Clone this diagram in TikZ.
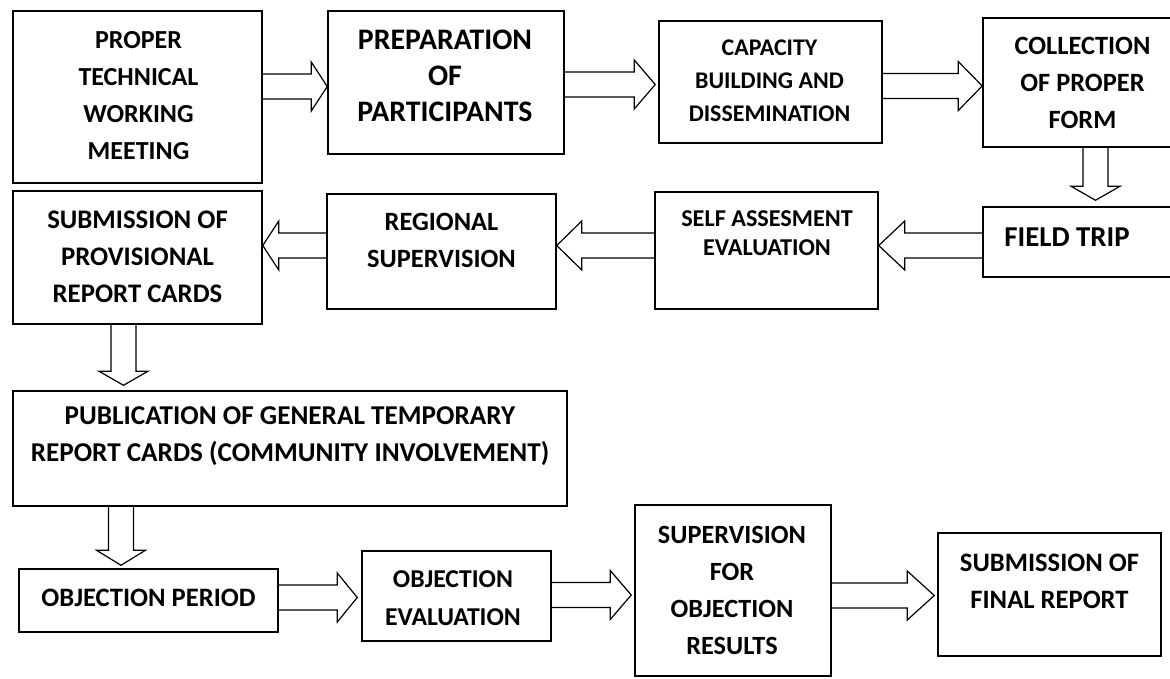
\documentclass[tikz,border=0pt]{standalone}
\usepackage{fontspec}
\setmainfont{Carlito}
\usetikzlibrary{calc}

\tikzset{
  box/.style={draw, line width=1.5pt, inner sep=0pt},
  txt/.style 2 args={align=center, inner sep=0pt, font=\fontsize{#1}{#2}\selectfont\bfseries},
  arrowline/.style={line width=1.2pt, line join=miter},
}

% block arrow from tail #1 to tip #2, head length #3
\newcommand{\blockarrow}[3]{%
  \coordinate (ba-h) at ($(#2)!#3!(#1)$);
  \draw[arrowline] ($(#1)!12.5pt!90:(#2)$) -- ($(ba-h)!12.5pt!-90:(#1)$)
    -- ($(ba-h)!24.5pt!-90:(#1)$) -- (#2) -- ($(ba-h)!24.5pt!90:(#1)$)
    -- ($(ba-h)!12.5pt!90:(#1)$) -- ($(#1)!12.5pt!-90:(#2)$);
}

\begin{document}
\begin{tikzpicture}[x=1pt, y=-1pt]
  \clip (0,0) rectangle (1170,678);
  % boxes
  \node[box, minimum width=249pt, minimum height=172pt] (meet) at (137.5,97) {};
  \node[box, minimum width=236pt, minimum height=143pt] (prep) at (446,82.5) {};
  \node[box, minimum width=223pt, minimum height=122pt] (capa) at (770.5,82) {};
  \node[box, minimum width=199pt, minimum height=129pt] (coll) at (1082.5,82.5) {};
  \node[box, minimum width=199pt, minimum height=70pt] (trip) at (1082.5,242) {};
  \node[box, minimum width=223pt, minimum height=117pt] (self) at (766.5,250.5) {};
  \node[box, minimum width=229pt, minimum height=115pt] (regn) at (441.5,251.5) {};
  \node[box, minimum width=249pt, minimum height=133pt] (subm) at (137.5,257.5) {};
  \node[box, minimum width=554pt, minimum height=115pt] (publ) at (290,448.5) {};
  \node[box, minimum width=259pt, minimum height=63pt] (objp) at (148.5,600.5) {};
  \node[box, minimum width=189pt, minimum height=90pt] (obje) at (456.5,596) {};
  \node[box, minimum width=196pt, minimum height=171pt] (supv) at (733,590.5) {};
  \node[box, minimum width=223pt, minimum height=123pt] (finl) at (1049.5,594.5) {};

  % texts
  \node[txt={26}{37}] (meet-t) at (138.5,95.5) {PROPER\\TECHNICAL\\WORKING\\MEETING};
  \node[txt={29.8}{36}] (prep-t) at (445,76) {PREPARATION\\OF\\PARTICIPANTS};
  \node[txt={23.9}{33}] (capa-t) at (769.5,80.5) {CAPACITY\\BUILDING AND\\DISSEMINATION};
  \node[txt={26.4}{37}] (coll-t) at (1082.5,83) {COLLECTION\\OF PROPER\\FORM};
  \node[txt={28.8}{37}] (trip-t) at (1067,237.5) {FIELD TRIP};
  \node[txt={24.2}{29}] (self-t) at (767,233) {SELF ASSESMENT\\EVALUATION};
  \node[txt={26.4}{37}] (regn-t) at (441.5,240.5) {REGIONAL\\SUPERVISION};
  \node[txt={26.8}{37}] (subm-t) at (137.5,256.5) {SUBMISSION OF\\PROVISIONAL\\REPORT CARDS};
  \node[txt={27.2}{37}] (publ-t) at (290,436) {PUBLICATION OF GENERAL TEMPORARY\\REPORT CARDS (COMMUNITY INVOLVEMENT)};
  \node[txt={26.6}{37}] (objp-t) at (148.5,597.5) {OBJECTION PERIOD};
  \node[txt={25.7}{38}] (obje-t) at (453,598) {OBJECTION\\EVALUATION};
  \node[txt={26.3}{37}] (supv-t) at (732,590) {SUPERVISION\\FOR\\OBJECTION\\RESULTS};
  \node[txt={26.6}{37}] (finl-t) at (1049.5,581.5) {SUBMISSION OF\\FINAL REPORT};

  % arrows, top row
  \coordinate (t1) at ([yshift=-4pt]prep.west);
  \coordinate (s1) at (meet.east |- t1);
  \blockarrow{s1}{t1}{16pt}
  \coordinate (t2) at ([xshift=-3pt,yshift=-2.5pt]capa.west);
  \coordinate (s2) at (prep.east |- t2);
  \blockarrow{s2}{t2}{21pt}
  \coordinate (t3) at ([yshift=-3.5pt]coll.west);
  \coordinate (s3) at (capa.east |- t3);
  \blockarrow{s3}{t3}{24pt}
  % down to field trip
  \path ([xshift=13pt]trip.north) ++(0,-6) coordinate (t4);
  \coordinate (s4) at (coll.south -| t4);
  \blockarrow{s4}{t4}{14pt}
  % second row, right to left
  \coordinate (s5) at ([yshift=-3.5pt]trip.west);
  \coordinate (t5) at (self.east |- s5);
  \blockarrow{s5}{t5}{26pt}
  \coordinate (s6) at (self.west |- s5);
  \coordinate (t6) at (regn.east |- s5);
  \blockarrow{s6}{t6}{25pt}
  \coordinate (s7) at (regn.west |- s5);
  \coordinate (t7) at (subm.east |- s5);
  \blockarrow{s7}{t7}{16pt}
  % down the left side
  \coordinate (s8) at ([xshift=-14pt]subm.south);
  \path (s8 |- publ.north) ++(0,-5) coordinate (t8);
  \blockarrow{s8}{t8}{14pt}
  \path ([xshift=-27.5pt]objp.north) ++(0,-3) coordinate (t9);
  \coordinate (s9) at (publ.south -| t9);
  \blockarrow{s9}{t9}{15pt}
  % bottom row
  \coordinate (t10) at ([xshift=-4pt,yshift=-1.5pt]obje.west);
  \coordinate (s10) at (objp.east |- t10);
  \blockarrow{s10}{t10}{20pt}
  \coordinate (t11) at ([xshift=-3pt,yshift=-4.5pt]supv.west);
  \coordinate (s11) at (obje.east |- t11);
  \blockarrow{s11}{t11}{21pt}
  \coordinate (t12) at ([xshift=-3pt,yshift=-1pt]finl.west);
  \coordinate (s12) at (supv.east |- t12);
  \blockarrow{s12}{t12}{27pt}
\end{tikzpicture}
\end{document}
